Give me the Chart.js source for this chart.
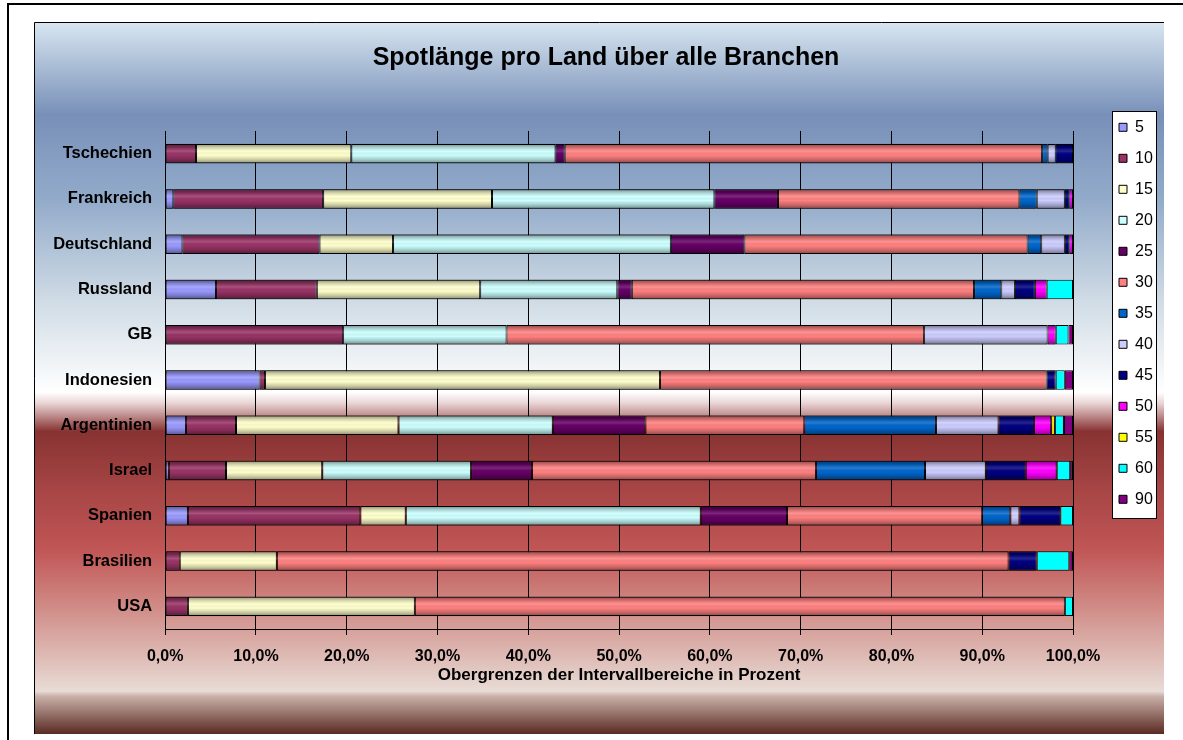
<!DOCTYPE html>
<html lang="de">
<head>
<meta charset="utf-8">
<title>Spotlänge pro Land über alle Branchen</title>
<script src="https://cdn.jsdelivr.net/npm/chart.js@4.4.1/dist/chart.umd.min.js"></script>
<style>
  html, body { margin: 0; padding: 0; background: #fff; }
  canvas { display: block; }
</style>
</head>
<body>
<canvas id="spotChart" width="1183" height="740"></canvas>
<script>
const laender = ["Tschechien", "Frankreich", "Deutschland", "Russland", "GB", "Indonesien",
  "Argentinien", "Israel", "Spanien", "Brasilien", "USA"];

const intervalle = ["5", "10", "15", "20", "25", "30", "35", "40", "45", "50", "55", "60", "90"];

// Anteile in Prozent, Reihenfolge wie laender
const s5  = [0, 0.9, 1.9, 5.6, 0, 10.4, 2.3, 0.4, 2.5, 0, 0];
const s10 = [3.4, 16.5, 15.1, 11.1, 19.6, 0.6, 5.5, 6.3, 19.0, 1.6, 2.5];
const s15 = [17.1, 18.6, 8.1, 18.0, 0, 43.5, 17.9, 10.6, 5.0, 10.7, 25.0];
const s20 = [22.5, 24.5, 30.6, 15.1, 18.0, 0, 17.0, 16.4, 32.5, 0, 0];
const s25 = [1.0, 7.0, 8.1, 1.6, 0, 0, 10.2, 6.7, 9.5, 0, 0];
const s30 = [52.6, 26.6, 31.2, 37.7, 46.0, 42.6, 17.5, 31.3, 21.5, 80.6, 71.6];
const s35 = [0.6, 1.9, 1.5, 3.0, 0, 0, 14.5, 12.0, 3.1, 0, 0];
const s40 = [0.9, 3.1, 2.6, 1.5, 13.6, 0, 6.9, 6.7, 1.0, 0, 0];
const s45 = [1.9, 0.5, 0.5, 2.2, 0, 1.0, 3.9, 4.4, 4.5, 3.1, 0];
const s50 = [0, 0.4, 0.4, 1.3, 0.9, 0, 1.9, 3.4, 0, 0, 0];
const s55 = [0, 0, 0, 0, 0, 0, 0.4, 0, 0, 0, 0];
const s60 = [0, 0, 0, 2.9, 1.4, 1.0, 1.0, 1.5, 1.4, 3.6, 0.9];
const s90 = [0, 0, 0, 0, 0.5, 0.9, 1.0, 0.3, 0, 0.4, 0];

const xTicks = [0, 10, 20, 30, 40, 50, 60, 70, 80, 90, 100];

const reihen = [s5, s10, s15, s20, s25, s30, s35, s40, s45, s50, s55, s60, s90];
const farben = ["#9999FF", "#993366", "#FFFFCC", "#CCFFFF", "#660066", "#FF8080", "#0066CC",
  "#CCCCFF", "#000080", "#FF00FF", "#FFFF00", "#00FFFF", "#800080"];
// die hellen Excel-Farben ohne Verlauf
const ohneVerlauf = ["55", "60", "90"];

const schrift = 'Arial, "Liberation Sans", sans-serif';
Chart.defaults.font.family = schrift;
Chart.defaults.color = '#000';

// Hintergrund, Rahmen und Legendenkasten
const hintergrund = {
  id: 'hintergrund',
  beforeDraw(chart) {
    const ctx = chart.ctx;
    ctx.save();
    ctx.fillStyle = '#fff';
    ctx.fillRect(0, 0, chart.width, chart.height);

    ctx.strokeStyle = '#000';
    ctx.lineWidth = 2;
    ctx.strokeRect(8, 4, chart.width + 20, chart.height + 20);

    const top = 22, bottom = 734, left = 34, right = 1164;
    const g = ctx.createLinearGradient(0, top, 0, bottom);
    g.addColorStop(0.00, '#d8e6f1');
    g.addColorStop(0.13, '#7890b8');
    g.addColorStop(0.25, '#93abca');
    g.addColorStop(0.39, '#cfdbe5');
    g.addColorStop(0.52, '#ffffff');
    g.addColorStop(0.535, '#ead6d6');
    g.addColorStop(0.575, '#883232');
    g.addColorStop(0.66, '#a84646');
    g.addColorStop(0.74, '#c05555');
    g.addColorStop(0.82, '#d08a85');
    g.addColorStop(0.94, '#e8dcd6');
    g.addColorStop(0.947, '#c8b0a8');
    g.addColorStop(1.00, '#5a2a22');
    ctx.fillStyle = g;
    ctx.fillRect(left, top, right - left, bottom - top);

    ctx.lineWidth = 1;
    ctx.beginPath();
    ctx.moveTo(left + 0.5, bottom);
    ctx.lineTo(left + 0.5, top + 0.5);
    ctx.lineTo(right, top + 0.5);
    ctx.stroke();

    const lg = chart.legend;
    if (lg && lg.width) {
      const pad = lg.options.labels.padding;
      const bx = lg.left + pad - 7;
      const by = lg.top + 74.3 + pad - 8;
      ctx.fillStyle = '#fff';
      ctx.fillRect(bx, by, 44, 407);
      ctx.strokeRect(Math.round(bx) + 0.5, Math.round(by) + 0.5, 44, 407);
    }
    ctx.restore();
  }
};

// Excel-artiger Verlauf auf den Balken
const schattierung = {
  id: 'schattierung',
  afterDatasetsDraw(chart) {
    const ctx = chart.ctx;
    ctx.save();
    chart.data.datasets.forEach((ds, i) => {
      if (ohneVerlauf.includes(ds.label)) return;
      chart.getDatasetMeta(i).data.forEach(bar => {
        const {x, y, base, height} = bar.getProps(['x', 'y', 'base', 'height'], true);
        const w = x - base;
        if (w < 1) return;
        const t = y - height / 2;
        const g = ctx.createLinearGradient(0, t, 0, t + height);
        g.addColorStop(0, 'rgba(0,0,0,0.45)');
        g.addColorStop(0.18, 'rgba(0,0,0,0.18)');
        g.addColorStop(0.38, 'rgba(255,255,255,0.15)');
        g.addColorStop(0.58, 'rgba(0,0,0,0)');
        g.addColorStop(0.8, 'rgba(0,0,0,0.2)');
        g.addColorStop(1, 'rgba(0,0,0,0.45)');
        ctx.fillStyle = g;
        ctx.fillRect(base, t, w, height);
      });
    });
    ctx.restore();
  }
};

const datasets = intervalle.map((name, i) => ({
  label: name,
  data: reihen[i],
  backgroundColor: farben[i],
  borderColor: '#000',
  borderWidth: 1,
  borderSkipped: false
}));

new Chart(document.getElementById('spotChart'), {
  type: 'bar',
  data: { labels: laender, datasets: datasets },
  options: {
    indexAxis: 'y',
    responsive: false,
    animation: false,
    layout: { padding: { left: 49.2, right: 20.2, top: 30, bottom: 50.8 } },
    datasets: { bar: { categoryPercentage: 1, barPercentage: 0.43 } },
    scales: {
      x: {
        stacked: true,
        min: 0,
        max: 100,
        afterBuildTicks: s => { s.ticks = xTicks.map(v => ({ value: v })); },
        grid: { color: '#000', lineWidth: 1, tickLength: 6 },
        border: { color: '#000', width: 1 },
        ticks: {
          padding: 12.4,
          font: { size: 16, weight: 'bold' },
          callback: v => v.toFixed(1).replace('.', ',') + '%'
        },
        title: {
          display: true,
          text: 'Obergrenzen der Intervallbereiche in Prozent',
          font: { size: 17, weight: 'bold' },
          padding: { top: -14.2, bottom: 4 }
        }
      },
      y: {
        stacked: true,
        grid: { display: false, drawTicks: false },
        border: { color: '#000', width: 1 },
        ticks: { padding: 13, font: { size: 16.5, weight: 'bold' } },
        afterFit: s => { s.width = 116; }
      },
      abstand: {
        type: 'linear',
        position: 'right',
        grid: { display: false },
        border: { display: false },
        ticks: { display: false },
        afterFit: s => { s.width = 31; }
      }
    },
    plugins: {
      title: {
        display: true,
        text: 'Spotlänge pro Land über alle Branchen',
        font: { size: 25, weight: 'bold' },
        padding: { top: 13, bottom: 58 }
      },
      legend: {
        position: 'right',
        align: 'start',
        title: { display: true, text: '', font: { size: 10 }, padding: { top: 62.3, bottom: 0 } },
        labels: {
          boxWidth: 8,
          boxHeight: 8,
          padding: 15,
          font: { size: 16 },
          color: '#000'
        }
      },
      tooltip: { enabled: false }
    }
  },
  plugins: [hintergrund, schattierung]
});
</script>
</body>
</html>
